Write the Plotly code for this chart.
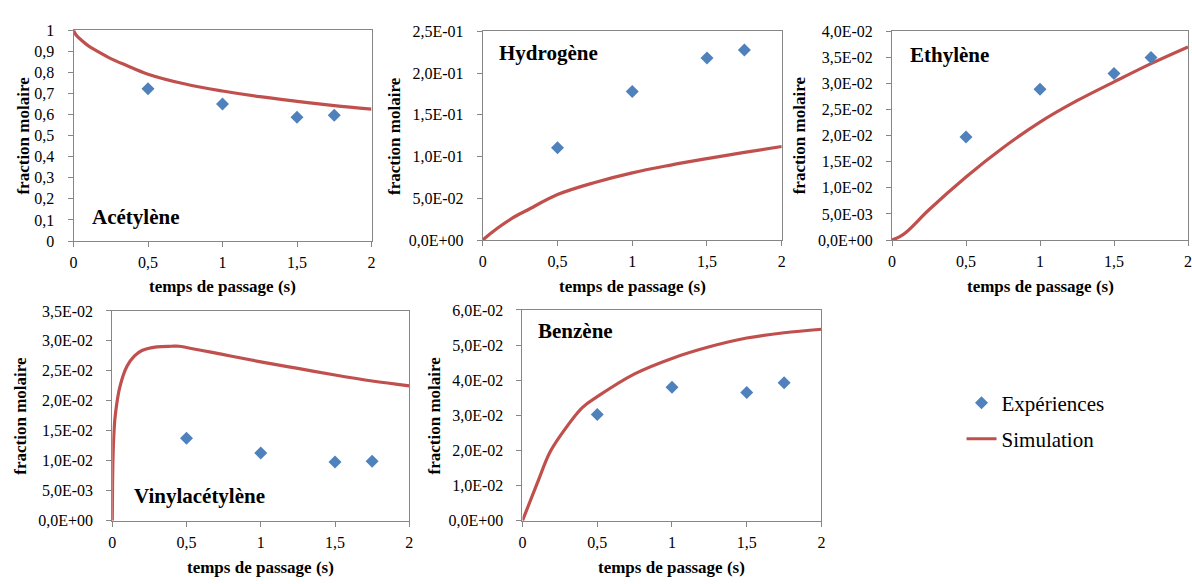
import plotly.graph_objects as go

# ---------------- data ----------------
exp_t = [0.5, 1.0, 1.5, 1.75]

acet_exp = [0.723, 0.650, 0.587, 0.597]
acet_sim_t = [0, 0.02, 0.05, 0.1, 0.15, 0.25, 0.35, 0.5, 0.75, 1.0, 1.25, 1.5, 1.75, 2.0]
acet_sim = [1.0, 0.975, 0.955, 0.926, 0.905, 0.866, 0.835, 0.792, 0.745, 0.712, 0.685, 0.663, 0.643, 0.626]

h2_exp = [0.1105, 0.178, 0.218, 0.2275]
h2_sim_t = [0, 0.05, 0.1, 0.2, 0.3, 0.5, 0.75, 1.0, 1.25, 1.5, 1.75, 2.0]
h2_sim = [0.0, 0.0075, 0.0145, 0.0265, 0.036, 0.0545, 0.069, 0.0805, 0.0895, 0.0975, 0.105, 0.112]

eth_exp = [0.01975, 0.0289, 0.0319, 0.0350]
eth_sim_t = [0, 0.05, 0.1, 0.25, 0.5, 0.75, 1.0, 1.25, 1.5, 1.75, 2.0]
eth_sim = [0.0, 0.0006, 0.0016, 0.0058, 0.0121, 0.0177, 0.0226, 0.0267, 0.0303, 0.0338, 0.0370]

vin_exp = [0.01375, 0.0113, 0.0098, 0.0099]
vin_sim_t = [0, 0.002, 0.005, 0.01, 0.02, 0.05, 0.1, 0.15, 0.2, 0.3, 0.4, 0.45, 0.5, 0.75, 1.0, 1.25, 1.5, 1.75, 2.0]
vin_sim = [0.0, 0.0065, 0.0105, 0.0140, 0.0175, 0.0222, 0.0258, 0.0275, 0.0284, 0.0290, 0.0291, 0.0291, 0.0289, 0.0277, 0.0265, 0.0254, 0.0243, 0.0233, 0.0225]

benz_exp = [0.0302, 0.0380, 0.0365, 0.0393]
benz_sim_t = [0, 0.1, 0.18, 0.25, 0.4, 0.5, 0.75, 1.0, 1.25, 1.5, 1.75, 2.0]
benz_sim = [0.0, 0.0108, 0.0192, 0.0240, 0.0322, 0.0353, 0.0418, 0.0462, 0.0495, 0.0520, 0.0535, 0.0545]

x_tickvals = [0, 0.5, 1, 1.5, 2]
x_ticktext = ["0", "0,5", "1", "1,5", "2"]

acet_tickvals = [i / 10 for i in range(11)]
acet_ticktext = ["0", "0,1", "0,2", "0,3", "0,4", "0,5", "0,6", "0,7", "0,8", "0,9", "1"]

h2_tickvals = [0, 0.05, 0.10, 0.15, 0.20, 0.25]
h2_ticktext = ["0,0E+00", "5,0E-02", "1,0E-01", "1,5E-01", "2,0E-01", "2,5E-01"]

eth_tickvals = [0, 0.005, 0.010, 0.015, 0.020, 0.025, 0.030, 0.035, 0.040]
eth_ticktext = ["0,0E+00", "5,0E-03", "1,0E-02", "1,5E-02", "2,0E-02", "2,5E-02", "3,0E-02", "3,5E-02", "4,0E-02"]

vin_tickvals = [0, 0.005, 0.010, 0.015, 0.020, 0.025, 0.030, 0.035]
vin_ticktext = ["0,0E+00", "5,0E-03", "1,0E-02", "1,5E-02", "2,0E-02", "2,5E-02", "3,0E-02", "3,5E-02"]

benz_tickvals = [0, 0.01, 0.02, 0.03, 0.04, 0.05, 0.06]
benz_ticktext = ["0,0E+00", "1,0E-02", "2,0E-02", "3,0E-02", "4,0E-02", "5,0E-02", "6,0E-02"]

panel_names = ["Acétylène", "Hydrogène", "Ethylène", "Vinylacétylène", "Benzène"]
legend_names = ["Expériences", "Simulation"]
x_title = "temps de passage (s)"
y_title = "fraction molaire"

# ---------------- layout constants ----------------
W, H = 1192, 584
FONT = "Liberation Serif, Times New Roman, serif"
BLUE = "#4F81BD"
RED = "#C0504D"
GRID = "#868686"

# pixel boxes: (left, right, top, bottom)
boxes = [
    (70, 370, 23, 240),
    (482, 783, 24, 239),
    (894, 1192, 24, 239),
    (109, 408, 312, 528),
    (522, 823, 311, 528),
]
yranges = [[0, 1], [0, 0.25], [0, 0.04], [0, 0.035], [0, 0.06]]
yticks = [(acet_tickvals, acet_ticktext), (h2_tickvals, h2_ticktext), (eth_tickvals, eth_ticktext),
          (vin_tickvals, vin_ticktext), (benz_tickvals, benz_ticktext)]
xranges = [[0, 2], [0, 2], [0, 2], [0, 2], [0, 2]]

series = [
    (acet_exp, acet_sim_t, acet_sim),
    (h2_exp, h2_sim_t, h2_sim),
    (eth_exp, eth_sim_t, eth_sim),
    (vin_exp, vin_sim_t, vin_sim),
    (benz_exp, benz_sim_t, benz_sim),
]

# panel label positions (left x, center y) px
label_pos = [(87, 215), (496, 46), (910, 48), (129, 503), (536, 333)]
# y-title x position (center) px
ytitle_x = [20, 393, 801, 17, 433]
# x-title y position (center) px
xtitle_y = [287, 287, 287, 576, 576]

fig = go.Figure()
annotations = []

def px_x(v):
    return v / W

def px_y(v):
    return 1 - v / H

for i, ((l, r, t, b), yr, (tv, tt), (ex, st, sv)) in enumerate(zip(boxes, yranges, yticks, series)):
    k = "" if i == 0 else str(i + 1)
    xa = "x" + k
    ya = "y" + k
    fig.add_trace(go.Scatter(
        x=st, y=sv, mode="lines", line=dict(color=RED, width=3.2),
        name=legend_names[1], showlegend=(i == 0), legend="legend2",
        xaxis=xa, yaxis=ya, line_shape="spline"))
    fig.add_trace(go.Scatter(
        x=exp_t, y=ex, mode="markers",
        marker=dict(symbol="diamond", size=10, color=BLUE),
        name=legend_names[0], showlegend=(i == 0), legend="legend",
        xaxis=xa, yaxis=ya))
    axis_common = dict(showline=True, linecolor=GRID, linewidth=1, mirror=True,
                       showgrid=False, zeroline=False, ticks="outside", ticklen=5,
                       tickcolor=GRID, tickfont=dict(family=FONT, size=16, color="#000"))
    fig.layout["xaxis" + k] = dict(
        domain=[px_x(l), px_x(r)], range=xranges[i], anchor=ya,
        tickvals=x_tickvals, ticktext=x_ticktext, ticklabelstandoff=2, **axis_common)
    fig.layout["yaxis" + k] = dict(
        domain=[px_y(b), px_y(t)], range=yr, anchor=xa,
        tickvals=tv, ticktext=tt, ticklabelstandoff=10, **axis_common)
    lx, ly = label_pos[i]
    annotations.append(dict(x=px_x(lx), y=px_y(ly), xref="paper", yref="paper",
                            text="<b>" + panel_names[i] + "</b>", showarrow=False,
                            xanchor="left", yanchor="middle",
                            font=dict(family=FONT, size=21, color="#000")))
    annotations.append(dict(x=px_x(ytitle_x[i]), y=px_y((t + b) / 2), xref="paper", yref="paper",
                            text="<b>" + y_title + "</b>", showarrow=False, textangle=-90,
                            xanchor="center", yanchor="middle",
                            font=dict(family=FONT, size=17, color="#000")))
    annotations.append(dict(x=px_x((l + r) / 2), y=px_y(xtitle_y[i]), xref="paper", yref="paper",
                            text="<b>" + x_title + "</b>", showarrow=False,
                            xanchor="center", yanchor="middle",
                            font=dict(family=FONT, size=17, color="#000")))

legend_common = dict(xanchor="left", yanchor="middle", bgcolor="rgba(0,0,0,0)",
                     font=dict(family=FONT, size=21, color="#000"))
fig.update_layout(
    width=W, height=H, margin=dict(l=0, r=0, t=0, b=0),
    paper_bgcolor="white", plot_bgcolor="white",
    annotations=annotations,
    showlegend=True,
    legend=dict(x=px_x(964), y=px_y(407), **legend_common),
    legend2=dict(x=px_x(964), y=px_y(444), **legend_common),
)

fig.write_html("out.html", config={"displayModeBar": False},
               post_script="document.body.style.margin='0';")
